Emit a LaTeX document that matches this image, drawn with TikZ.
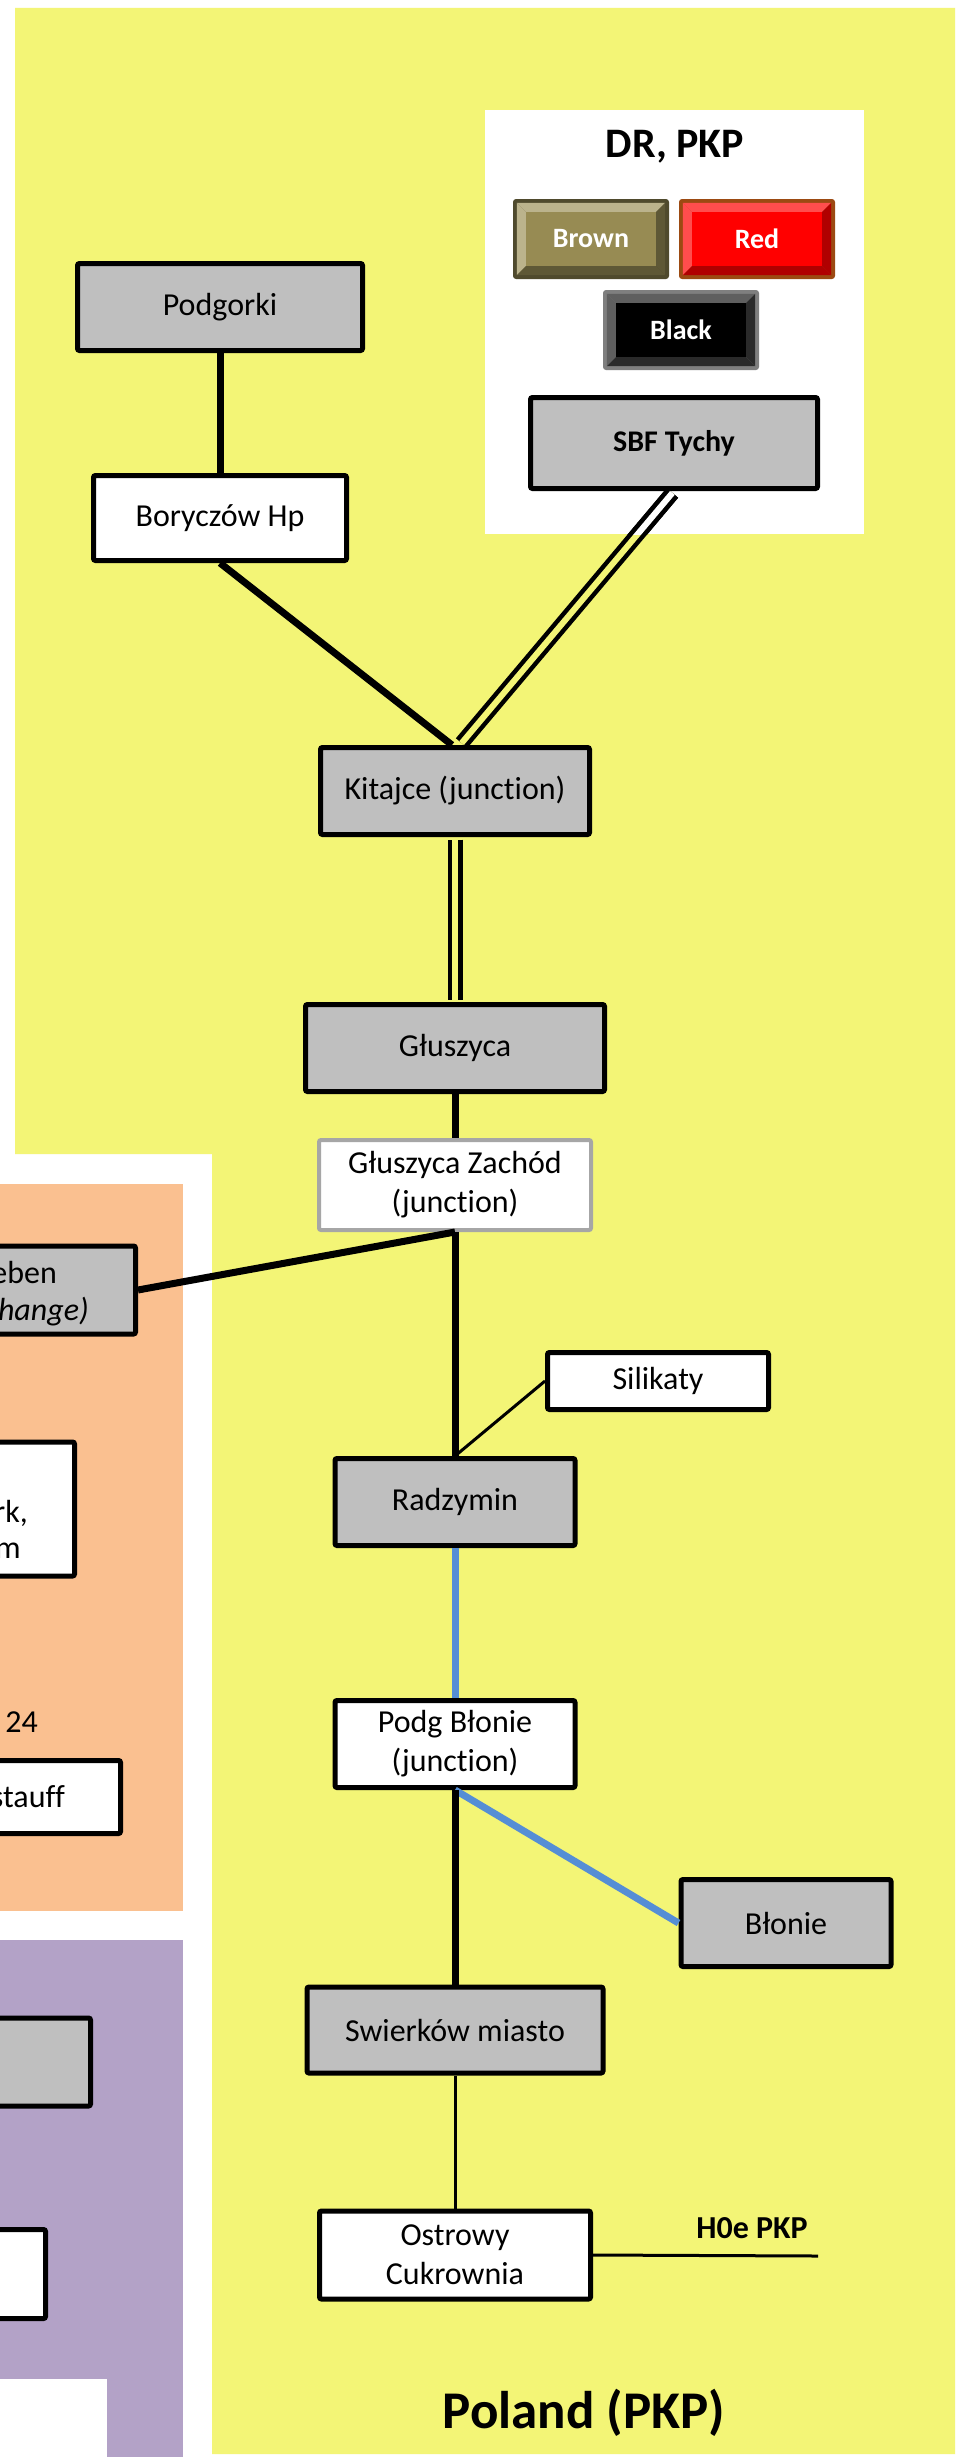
\documentclass[tikz,border=0pt]{standalone}
\usepackage{fontspec}
\setmainfont{Carlito}[Ligatures=NoCommon]
\usetikzlibrary{positioning}
\definecolor{plyellow}{HTML}{F3F576}
\definecolor{deorange}{HTML}{FAC090}
\definecolor{czpurple}{HTML}{B3A2C7}
\definecolor{stgray}{HTML}{BFBFBF}
\definecolor{zgray}{HTML}{A6A6A6}
\definecolor{railblue}{HTML}{558ED5}
\definecolor{brnframe}{HTML}{4F4A2D}
\definecolor{brnlight}{HTML}{BBB38C}
\definecolor{brndark}{HTML}{5E5836}
\definecolor{brnface}{HTML}{978B53}
\definecolor{redframe}{HTML}{9C4A12}
\definecolor{redlight}{HTML}{FF4D4D}
\definecolor{reddark}{HTML}{B00000}
\definecolor{blkframe}{HTML}{7F7F7F}
\definecolor{blklight}{HTML}{5F5F5F}
\definecolor{blkdark}{HTML}{2A2A2A}

\begin{document}
\begin{tikzpicture}[x=1pt, y=-1pt,
    stn/.style={draw, line width=5pt, rounded corners=2pt, align=center, inner sep=0pt, font=\fontsize{32}{39}\selectfont},
    gstn/.style={stn, fill=stgray},
    wstn/.style={stn, fill=white},
    trunk/.style={line width=7pt},
    spur/.style={line width=3pt},
    elec/.style={line width=7pt, railblue},
    twin/.style={line width=4.5pt, double=plyellow, double distance=6pt, shorten <=2.5pt, shorten >=2.5pt},
    edgetext/.style={font=\fontsize{32}{39}\selectfont, inner sep=0pt, anchor=base east},
    btn/.style={minimum width=156pt, minimum height=80pt, inner sep=0pt, rounded corners=3pt},
    btnlabel/.style={text=white, font=\fontsize{28}{32}\selectfont\bfseries}]
  \useasboundingbox (0,0) rectangle (965,2457);
  \fill[white] (0,0) rectangle (965,2457);
  \fill[plyellow] (15,8) -- (955,8) -- (955,2454) -- (212,2454) -- (212,1154) -- (15,1154) -- cycle;
  \fill[white] (485,110) rectangle (864,534);
  \fill[deorange] (0,1184) rectangle (183,1911);
  \fill[czpurple] (0,1940) rectangle (183,2457);
  \fill[white] (0,2379) rectangle (107,2457);

  \node[font=\fontsize{42}{50}\selectfont\bfseries] (legtitle) at (675,147) {DR, PKP};

  \node[btn, fill=brnframe] (brown) at (591,239) {};
  \fill[brnlight] ([shift={(4,4)}]brown.north west) -- ([shift={(-4,4)}]brown.north east) -- ([shift={(-13,13)}]brown.north east) -- ([shift={(13,13)}]brown.north west) -- cycle;
  \fill[brnlight] ([shift={(4,4)}]brown.north west) -- ([shift={(13,13)}]brown.north west) -- ([shift={(13,-13)}]brown.south west) -- ([shift={(4,-4)}]brown.south west) -- cycle;
  \fill[brndark] ([shift={(-4,4)}]brown.north east) -- ([shift={(-13,13)}]brown.north east) -- ([shift={(-13,-13)}]brown.south east) -- ([shift={(-4,-4)}]brown.south east) -- cycle;
  \fill[brndark] ([shift={(4,-4)}]brown.south west) -- ([shift={(-4,-4)}]brown.south east) -- ([shift={(-13,-13)}]brown.south east) -- ([shift={(13,-13)}]brown.south west) -- cycle;
  \fill[brnface] ([shift={(13,13)}]brown.north west) rectangle ([shift={(-13,-13)}]brown.south east);
  \node[btnlabel] at (brown) {Brown};

  \node[btn, fill=redframe] (red) at (757,239) {};
  \fill[redlight] ([shift={(4,4)}]red.north west) -- ([shift={(-4,4)}]red.north east) -- ([shift={(-13,13)}]red.north east) -- ([shift={(13,13)}]red.north west) -- cycle;
  \fill[redlight] ([shift={(4,4)}]red.north west) -- ([shift={(13,13)}]red.north west) -- ([shift={(13,-13)}]red.south west) -- ([shift={(4,-4)}]red.south west) -- cycle;
  \fill[reddark] ([shift={(-4,4)}]red.north east) -- ([shift={(-13,13)}]red.north east) -- ([shift={(-13,-13)}]red.south east) -- ([shift={(-4,-4)}]red.south east) -- cycle;
  \fill[reddark] ([shift={(4,-4)}]red.south west) -- ([shift={(-4,-4)}]red.south east) -- ([shift={(-13,-13)}]red.south east) -- ([shift={(13,-13)}]red.south west) -- cycle;
  \fill[red] ([shift={(13,13)}]red.north west) rectangle ([shift={(-13,-13)}]red.south east);
  \node[btnlabel] at (red) {Red};

  \node[btn, fill=blkframe] (black) at (681,330) {};
  \fill[blklight] ([shift={(4,4)}]black.north west) -- ([shift={(-4,4)}]black.north east) -- ([shift={(-13,13)}]black.north east) -- ([shift={(13,13)}]black.north west) -- cycle;
  \fill[blklight] ([shift={(4,4)}]black.north west) -- ([shift={(13,13)}]black.north west) -- ([shift={(13,-13)}]black.south west) -- ([shift={(4,-4)}]black.south west) -- cycle;
  \fill[blkdark] ([shift={(-4,4)}]black.north east) -- ([shift={(-13,13)}]black.north east) -- ([shift={(-13,-13)}]black.south east) -- ([shift={(-4,-4)}]black.south east) -- cycle;
  \fill[blkdark] ([shift={(4,-4)}]black.south west) -- ([shift={(-4,-4)}]black.south east) -- ([shift={(-13,-13)}]black.south east) -- ([shift={(13,-13)}]black.south west) -- cycle;
  \fill[black] ([shift={(13,13)}]black.north west) rectangle ([shift={(-13,-13)}]black.south east);
  \node[btnlabel] at (black) {Black};

  \node[gstn, minimum width=285pt, minimum height=87pt] (podgorki) at (220,307) {Podgorki};
  \node[wstn, minimum width=253pt, minimum height=85pt] (borycz) at (220,518) {Boryczów Hp};
  \node[gstn, minimum width=287pt, minimum height=91pt, font=\fontsize{30}{36}\selectfont\bfseries] (sbf) at (674,443) {SBF Tychy};
  \node[gstn, minimum width=269pt, minimum height=87pt] (kitajce) at (455,791) {Kitajce (junction)};
  \node[gstn, minimum width=299pt, minimum height=87pt] (gluszyca) at (455,1048) {Głuszyca};
  \node[wstn, draw=zgray, line width=4pt, minimum width=272pt, minimum height=90pt] (zachod) at (455,1185) {Głuszyca Zachód\\(junction)};
  \node[wstn, minimum width=221pt, minimum height=57pt] (silikaty) at (658,1381) {Silikaty};
  \node[gstn, minimum width=240pt, minimum height=87pt] (radzymin) at (455,1502) {Radzymin};
  \node[wstn, minimum width=240pt, minimum height=87pt] (podgblonie) at (455,1744) {Podg Błonie\\(junction)};
  \node[gstn, minimum width=210pt, minimum height=87pt] (blonie) at (786,1923) {Błonie};
  \node[gstn, minimum width=296pt, minimum height=86pt] (swierkow) at (455,2030) {Swierków miasto};
  \node[wstn, minimum width=271pt, minimum height=88pt] (ostrowy) at (455,2255) {Ostrowy\\Cukrownia};
  \coordinate (h0e) at (818,2256);
  \node[font=\fontsize{32}{38}\selectfont\bfseries] (h0elabel) at (752,2228) {H0e PKP};
  \node[font=\fontsize{53}{60}\selectfont\bfseries] (country) at (584,2413) {Poland (PKP)};

  \node[gstn, minimum width=295pt, minimum height=88pt] (ebenbox) at (-12,1290) {};
  \node[edgetext] at (57,1283) {eben};
  \node[edgetext, font=\fontsize{32}{39}\selectfont\itshape] at (89,1320) {hange)};
  \node[wstn, minimum width=295pt, minimum height=134pt] (rkbox) at (-73,1509) {};
  \node[edgetext] at (28,1522) {rk,};
  \node[edgetext] at (21,1558) {m};
  \node[edgetext] (km) at (38,1732) {24};
  \node[wstn, minimum width=295pt, minimum height=73pt] (stauffbox) at (-27,1797) {};
  \node[edgetext] at (65,1807) {stauff};
  \node[gstn, minimum width=295pt, minimum height=88pt] (czgray) at (-57,2062) {};
  \node[wstn, minimum width=295pt, minimum height=89pt] (czwhite) at (-102,2274) {};

  \draw[trunk] (podgorki) -- (borycz);
  \draw[trunk] (borycz.south) -- ([xshift=-3pt]kitajce.north);
  \draw[twin] (sbf.south) -- ([xshift=5pt]kitajce.north);
  \begin{scope}
    \clip (485,110) rectangle (864,534);
    \draw[twin, double=white] (sbf.south) -- ([xshift=5pt]kitajce.north);
  \end{scope}
  \draw[twin] (kitajce) -- (gluszyca);
  \draw[trunk] (gluszyca) -- (zachod);
  \draw[trunk] (zachod.south) -- (ebenbox.east);
  \draw[trunk] (zachod) -- (radzymin);
  \draw[spur] (silikaty.west) -- (radzymin.north);
  \draw[elec] (radzymin) -- (podgblonie);
  \draw[elec] (podgblonie.south) -- (blonie.west);
  \draw[trunk] (podgblonie) -- (swierkow);
  \draw[spur] (swierkow) -- (ostrowy);
  \draw[spur] (ostrowy.east) -- (h0e);
\end{tikzpicture}
\end{document}
